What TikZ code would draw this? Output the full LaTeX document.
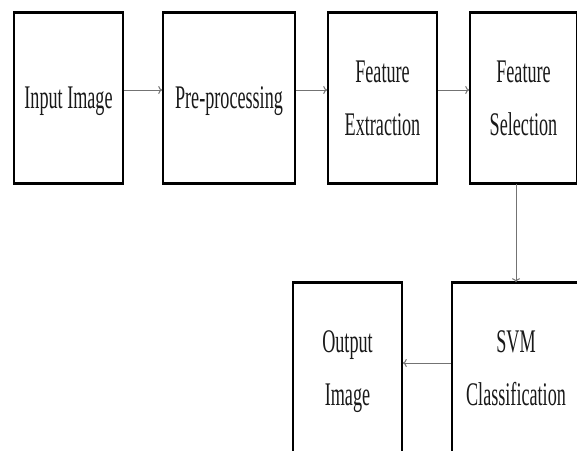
\documentclass[tikz,border=0pt]{standalone}
\usepackage{fontspec}
\setmainfont{Liberation Serif}
\usepackage{graphicx}
\usetikzlibrary{arrows.meta}

\newcommand{\boxtext}[1]{\scalebox{0.55}[1]{\fontsize{33}{53}\selectfont\begin{tabular}{@{}c@{}}#1\end{tabular}}}

\tikzset{
  stage/.style={draw=black, line width=1.6pt, fill=white, text=black!90,
    minimum width=109pt, minimum height=170pt, inner sep=0pt},
  flow/.style={draw=black!55, line width=1pt, -{To[length=4pt, width=8pt]}}
}

\begin{document}
\begin{tikzpicture}[x=1pt, y=1pt]
  \useasboundingbox (0,0) rectangle (577,-450);
  \clip (0,0) rectangle (577,-450);
  \node[stage] (input) at (68.5,-98) {\boxtext{Input Image}};
  \node[stage, minimum width=132pt] (prep) at (229,-98) {\boxtext{Pre-processing}};
  \node[stage] (extr) at (382.5,-98) {\boxtext{Feature\\Extraction}};
  \node[stage, minimum width=107pt] (sel) at (523.5,-98) {\boxtext{Feature\\Selection}};
  \node[stage, minimum width=128pt] (svm) at (516,-368) {\boxtext{SVM\\Classification}};
  \node[stage] (out) at (347.5,-368) {\boxtext{Output\\Image}};
  % heavier top and bottom edges
  \foreach \n in {input,prep,extr,sel,svm,out}
    \draw[line width=3.2pt] (\n.north west) -- (\n.north east) (\n.south west) -- (\n.south east);
  \draw[flow] ([yshift=8pt]input.east) -- ([yshift=8pt]prep.west);
  \draw[flow] ([yshift=8pt]prep.east) -- ([yshift=8pt]extr.west);
  \draw[flow] ([yshift=8pt]extr.east) -- ([yshift=8pt]sel.west);
  \draw[flow] (sel.south -| svm.north) -- (svm.north);
  \draw[flow] ([yshift=5pt]svm.west) -- ([yshift=5pt]out.east);
\end{tikzpicture}
\end{document}
